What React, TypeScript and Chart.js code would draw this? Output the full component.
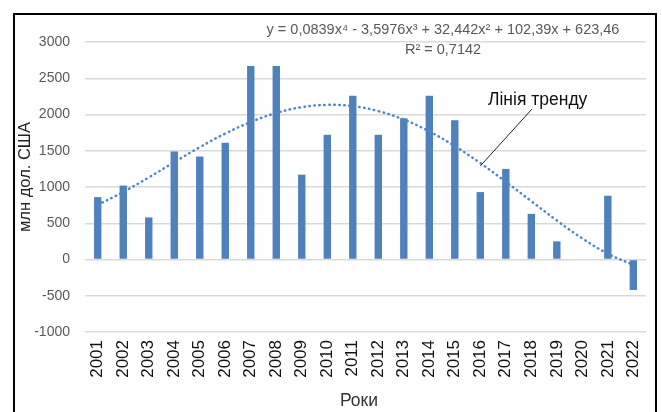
import React, { useEffect, useRef } from "react";
import { Chart, registerables } from "chart.js";

Chart.register(...registerables);

const years = ["2001","2002","2003","2004","2005","2006","2007","2008","2009","2010","2011","2012","2013","2014","2015","2016","2017","2018","2019","2020","2021","2022"];
const investments = [860, 1020, 580, 1490, 1420, 1610, 2670, 2670, 1170, 1720, 2260, 1720, 1950, 2260, 1920, 930, 1250, 630, 250, 10, 880, -420];
const trendValues = [755, 931, 1132, 1343, 1549, 1737, 1897, 2021, 2101, 2133, 2115, 2047, 1930, 1767, 1564, 1330, 1072, 804, 538, 291, 80, -75];
const yTicks = { min: -1000, max: 3000, step: 500 };
const equationText = "y = 0,0839x⁴ - 3,5976x³ + 32,442x² + 102,39x + 623,46";
const r2Text = "R² = 0,7142";
const trendLabel = "Лінія тренду";
const yTitle = "млн дол. США";
const xTitle = "Роки";

const FONT = "Arial, 'Liberation Sans', sans-serif";

const overlay = {
  id: "overlay",
  afterDraw(chart: any) {
    const { ctx, scales } = chart;
    const x = scales.x;
    const y = scales.y;
    ctx.save();
    // frame
    ctx.strokeStyle = "#000";
    ctx.lineWidth = 2;
    ctx.beginPath();
    ctx.moveTo(14, 412);
    ctx.lineTo(14, 14);
    ctx.lineTo(656, 14);
    ctx.lineTo(656, 412);
    ctx.stroke();

    // equation
    ctx.fillStyle = "#595959";
    ctx.font = "14.5px " + FONT;
    ctx.textAlign = "center";
    ctx.textBaseline = "middle";
    ctx.fillText(equationText, 443, 30);
    ctx.fillText(r2Text, 443, 50);

    // trend label
    ctx.fillStyle = "#111";
    ctx.font = "17.5px " + FONT;
    ctx.textAlign = "left";
    ctx.fillText(trendLabel, 488, 100);

    // leader line to trend line
    const ex = x.getPixelForValue(15);
    const ey = y.getPixelForValue(1290);
    ctx.strokeStyle = "#222";
    ctx.lineWidth = 1;
    ctx.beginPath();
    ctx.moveTo(532, 109);
    ctx.lineTo(ex, ey);
    ctx.stroke();

    // axis titles
    ctx.fillStyle = "#222";
    ctx.font = "16.5px " + FONT;
    ctx.textAlign = "center";
    ctx.textBaseline = "middle";
    ctx.save();
    ctx.translate(25, 177);
    ctx.rotate(-Math.PI / 2);
    ctx.fillText(yTitle, 0, 0);
    ctx.restore();
    ctx.font = "17.5px " + FONT;
    ctx.fillStyle = "#333";
    ctx.fillText(xTitle, 359, 401);
    ctx.restore();
  },
};

export default function App() {
  const ref = useRef<HTMLCanvasElement>(null);
  useEffect(() => {
    const chart = new Chart(ref.current!, {
      type: "bar",
      data: {
        labels: years,
        datasets: [
          {
            type: "line",
            label: "Trend",
            data: trendValues,
            borderColor: "#4f86c6",
            borderWidth: 2.5,
            borderDash: [0.5, 4.5],
            borderCapStyle: "round",
            pointRadius: 0,
            tension: 0.4,
            fill: false,
            order: 0,
          } as any,
          {
            type: "bar",
            label: "Investments",
            data: investments,
            backgroundColor: "#4f81bd",
            barPercentage: 0.58,
            categoryPercentage: 0.5,
            order: 1,
          },
        ],
      },
      options: {
        responsive: false,
        animation: false,
        layout: { padding: { left: 0, right: 12, top: 42, bottom: 0 } },
        plugins: { legend: { display: false }, tooltip: { enabled: false } },
        scales: {
          x: {
            grid: { display: false, drawTicks: false },
            border: { display: false },
            ticks: {
              color: "#111",
              font: { family: FONT, size: 17 },
              maxRotation: 90,
              minRotation: 90,
              padding: 8,
              autoSkip: false,
            },
            afterFit(scale: any) {
              scale.height = 80;
            },
          },
          y: {
            min: yTicks.min,
            max: yTicks.max,
            grid: { color: "#d9d9d9", lineWidth: 1.5, drawTicks: false },
            border: { display: false },
            ticks: {
              stepSize: yTicks.step,
              color: "#595959",
              font: { family: FONT, size: 14 },
              padding: 15,
              callback: (v: any) => String(v),
            },
            afterFit(scale: any) {
              scale.width = 85;
            },
          },
        },
      },
      plugins: [overlay],
    });
    return () => chart.destroy();
  }, []);
  return (
    <div style={{ position: "fixed", left: 0, top: 0, width: 662, height: 412, background: "#fff" }}>
      <canvas ref={ref} width={662} height={412} style={{ display: "block" }} />
    </div>
  );
}
